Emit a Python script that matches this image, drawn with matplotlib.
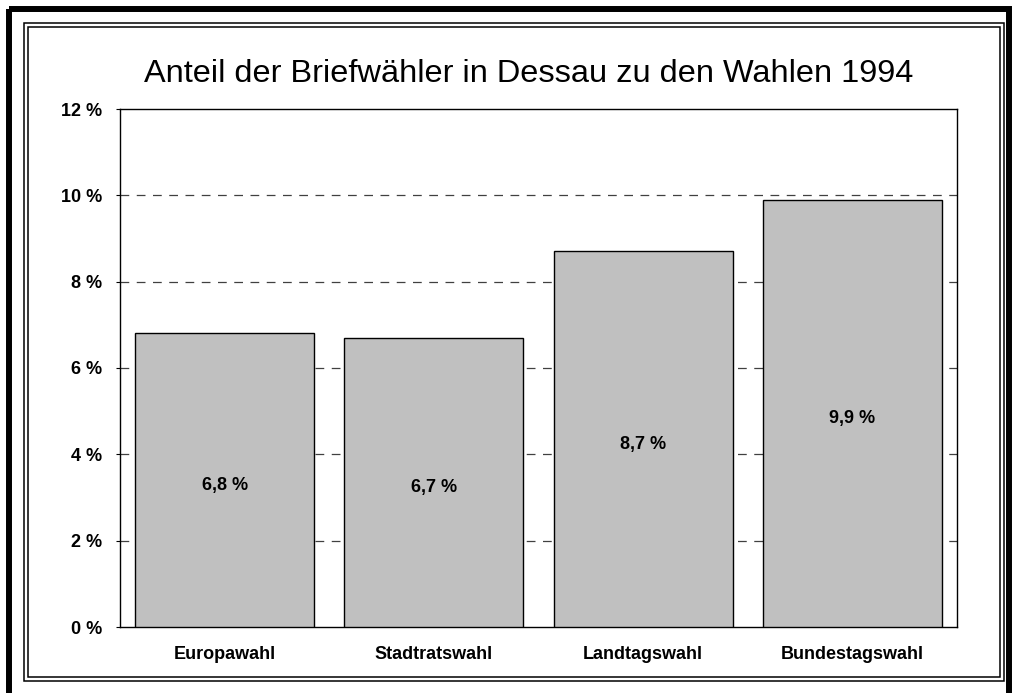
import matplotlib
matplotlib.use("Agg")
import matplotlib.pyplot as plt
from matplotlib.patches import Rectangle
from matplotlib.ticker import FuncFormatter

plt.rcParams['font.family'] = ['Liberation Sans', 'DejaVu Sans']

categories = ["Europawahl", "Stadtratswahl", "Landtagswahl", "Bundestagswahl"]
values = [6.8, 6.7, 8.7, 9.9]
value_labels = ["6,8 %", "6,7 %", "8,7 %", "9,9 %"]
yticks = [0, 2, 4, 6, 8, 10, 12]

W, H = 1016, 693
fig = plt.figure(figsize=(W / 100, H / 100), dpi=100)

# frame drawn in pixel coordinates
bg = fig.add_axes([0, 0, 1, 1])
bg.set_xlim(0, W)
bg.set_ylim(H, 0)
bg.axis("off")
bg.add_patch(Rectangle((9, 9), 1000, 700, fill=False, lw=4.3, ec="black"))
bg.add_patch(Rectangle((24, 23), 980, 658, fill=False, lw=1.1, ec="black"))
bg.add_patch(Rectangle((28, 27), 972, 650, fill=False, lw=1.1, ec="black"))

# plot area: x 120..957, y 109..627 (pixels)
ax = fig.add_axes([120 / W, 1 - 627 / H, (957 - 120) / W, (627 - 109) / H])
x = range(len(categories))
ax.bar(x, values, width=0.855, color="#c0c0c0", edgecolor="black", lw=1, zorder=3)
for i, v in enumerate(values):
    ax.text(i, v / 2 - 0.12, value_labels[i], ha="center", va="center",
            fontsize=13, fontweight="bold", zorder=4)

ax.set_xlim(-0.5, len(categories) - 0.5)
ax.set_ylim(0, 12)
ax.set_yticks(yticks)
ax.yaxis.set_major_formatter(FuncFormatter(lambda v, p: "%d %%" % v))
for t in yticks[1:-1]:
    ax.axhline(t, color="#404040", lw=0.9, ls=(0, (7, 6)), zorder=1)
ax.set_xticks(list(x))
ax.set_xticklabels(categories, fontsize=13, fontweight="bold")
ax.tick_params(axis="x", length=0, pad=14)
ax.tick_params(axis="y", length=3, direction="out", pad=10)
for lab in ax.get_yticklabels():
    lab.set_fontweight("bold")
    lab.set_fontsize(13)
for s in ax.spines.values():
    s.set_linewidth(1)

fig.text(529 / W, 1 - 74 / H, "Anteil der Briefwähler in Dessau zu den Wahlen 1994",
         ha="center", va="center", fontsize=23.4)

fig.savefig("out.png", dpi=100)
